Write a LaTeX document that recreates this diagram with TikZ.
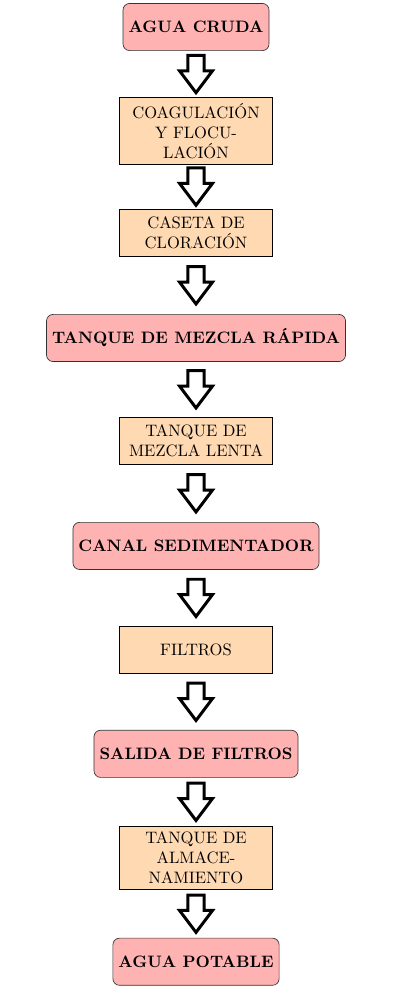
\documentclass[tikz,border=0pt]{standalone}
\usetikzlibrary{shapes.arrows}
\tikzset{
  etapa/.style={rectangle, draw, fill=orange!30, text width=3cm, align=center, minimum height=1cm},
  hito/.style={rectangle, rounded corners, draw=black!80, fill=red!30, minimum height=1cm, font=\bfseries},
  flecha/.style={single arrow, draw, line width=1.8pt, fill=white, shape border rotate=270,
    inner sep=3.95pt, minimum height=22.5pt, single arrow head extend=5.1pt,
    single arrow tip angle=74, yshift=3.3pt}
}
\begin{document}
\begin{tikzpicture}
\useasboundingbox (0,0) rectangle (8.612,-21.0);
% etapas del tratamiento
\node[hito]  (cruda)   at (4.158,-0.573)  {AGUA CRUDA};
\node[etapa] (coag)    at (4.158,-2.777)  {COAGULACIÓN\\ Y FLOCU-\\ LACIÓN};
\node[etapa] (caseta)  at (4.158,-4.942)  {CASETA DE\\ CLORACIÓN};
\node[hito]  (rapida)  at (4.158,-7.169)  {TANQUE DE MEZCLA RÁPIDA};
\node[etapa] (lenta)   at (4.158,-9.354)  {TANQUE DE\\ MEZCLA LENTA};
\node[hito]  (canal)   at (4.158,-11.58)  {CANAL SEDIMENTADOR};
\node[etapa] (filtros) at (4.158,-13.79)  {FILTROS};
\node[hito]  (salida)  at (4.158,-15.99)  {SALIDA DE FILTROS};
\node[etapa] (tanque)  at (4.158,-18.20)  {TANQUE DE\\ ALMACE-\\ NAMIENTO};
\node[hito]  (potable) at (4.158,-20.40)  {AGUA POTABLE};

% flechas
\path (cruda) -- node[flecha] (f1) {} (coag);
\path (coag) -- node[flecha] (f2) {} (caseta);
\path (caseta) -- node[flecha] (f3) {} (rapida);
\path (rapida) -- node[flecha] (f4) {} (lenta);
\path (lenta) -- node[flecha] (f5) {} (canal);
\path (canal) -- node[flecha] (f6) {} (filtros);
\path (filtros) -- node[flecha] (f7) {} (salida);
\path (salida) -- node[flecha] (f8) {} (tanque);
\path (tanque) -- node[flecha] (f9) {} (potable);
\end{tikzpicture}
\end{document}
